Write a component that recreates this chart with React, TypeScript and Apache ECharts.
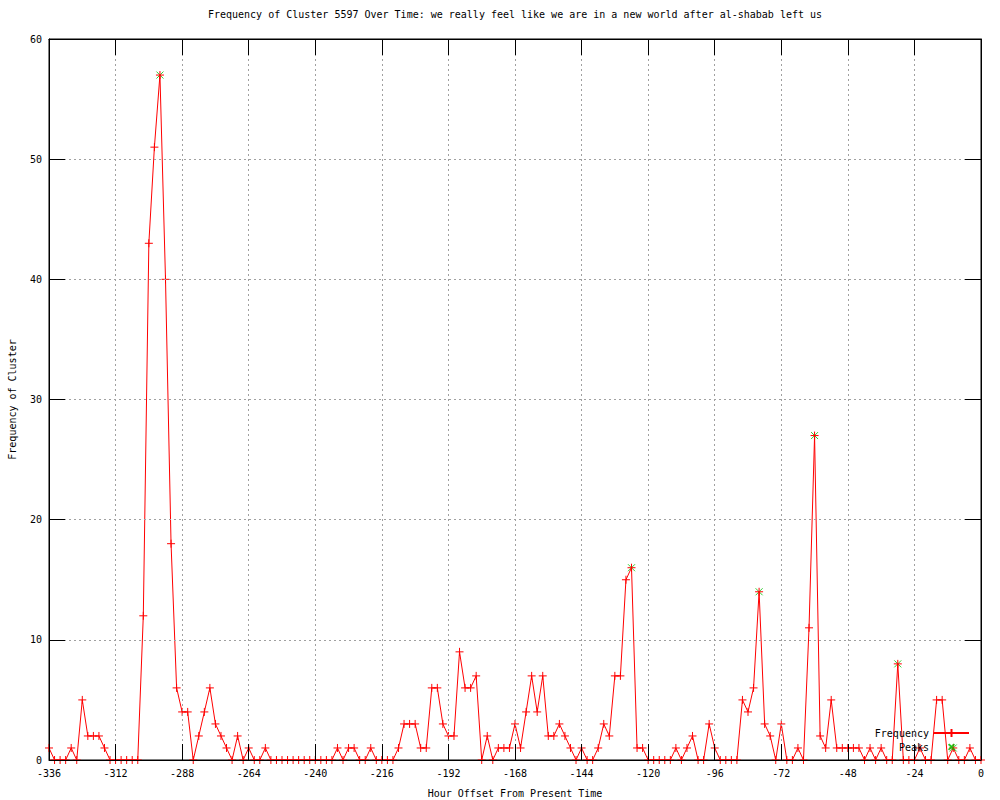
import React, { useEffect, useRef } from "react";
import * as echarts from "echarts";

const TITLE = "Frequency of Cluster 5597 Over Time: we really feel like we are in a new world after al-shabab left us";
const X_NAME = "Hour Offset From Present Time";
const Y_NAME = "Frequency of Cluster";

const HOUR_START = -336;
const HOUR_STEP = 2;

// frequency per 2-hour step, from -336 up to 0
const frequency = [
  1, 0, 0, 0, 1, 0, 5, 2, 2, 2,
  1, 0, 0, 0, 0, 0, 0, 12, 43, 51,
  57, 40, 18, 6, 4, 4, 0, 2, 4, 6,
  3, 2, 1, 0, 2, 0, 1, 0, 0, 1,
  0, 0, 0, 0, 0, 0, 0, 0, 0, 0,
  0, 0, 1, 0, 1, 1, 0, 0, 1, 0,
  0, 0, 0, 1, 3, 3, 3, 1, 1, 6,
  6, 3, 2, 2, 9, 6, 6, 7, 0, 2,
  0, 1, 1, 1, 3, 1, 4, 7, 4, 7,
  2, 2, 3, 2, 1, 0, 1, 0, 0, 1,
  3, 2, 7, 7, 15, 16, 1, 1, 0, 0,
  0, 0, 0, 1, 0, 1, 2, 0, 0, 3,
  1, 0, 0, 0, 0, 5, 4, 6, 14, 3,
  2, 0, 3, 0, 0, 1, 0, 11, 27, 2,
  1, 5, 1, 1, 1, 1, 1, 0, 1, 0,
  1, 0, 0, 8, 0, 0, 0, 1, 0, 0,
  5, 5, 0, 1, 0, 0, 1, 0, 0,
];

const peakHours = [-296, -126, -80, -60, -30, -10];
const peakValues = [57, 16, 14, 27, 8, 1];

const X_MIN = -336;
const X_MAX = 0;
const X_INTERVAL = 24;
const Y_MIN = 0;
const Y_MAX = 60;
const Y_INTERVAL = 10;

const FONT = "DejaVu Sans Mono";
const PLUS = "path://M0,4.5L9,4.5M4.5,0L4.5,9";
const CROSS = "path://M0,0L9,9M9,0L0,9";
const CROSS_LEGEND = "path://M0,0L0,0M2.5,2.5L9.5,9.5M9.5,2.5L2.5,9.5M12,12L12,12";

const makeTick = () => ({ show: true, inside: true, length: 16, lineStyle: { color: "#000", width: 1 } });
const makeLine = () => ({ show: true, onZero: false, lineStyle: { color: "#000", width: 1 } });
const makeGridLine = () => ({ show: true, lineStyle: { color: "#a0a0a0", type: [2, 3] as any, width: 1 } });

export default function App() {
  const ref = useRef<HTMLDivElement>(null);

  useEffect(() => {
    if (!ref.current) return;
    const chart = echarts.init(ref.current, null, { renderer: "svg" });

    const freqData = frequency.map((v, i) => [HOUR_START + i * HOUR_STEP, v]);
    const peakData = peakHours.map((h, i) => [h, peakValues[i]]);

    chart.setOption({
      animation: false,
      backgroundColor: "#fff",
      title: {
        text: TITLE,
        left: 515,
        textAlign: "center",
        top: 9,
        padding: 0,
        textStyle: { fontFamily: FONT, fontSize: 10, fontWeight: "normal", color: "#000" },
      },
      legend: {
        orient: "vertical",
        right: 30,
        top: 728,
        padding: 0,
        align: "right",
        itemWidth: 35,
        itemHeight: 10,
        itemGap: 3,
        data: ["Frequency", { name: "Peaks", icon: CROSS_LEGEND }],
        textStyle: { fontFamily: FONT, fontSize: 10, color: "#000" },
      },
      grid: {
        left: 49,
        right: 19,
        top: 39,
        bottom: 40,
        show: true,
        borderColor: "#000",
        borderWidth: 1,
        backgroundColor: "transparent",
        containLabel: false,
        outerBoundsMode: "none",
      },
      xAxis: [
        {
          type: "value",
          min: X_MIN,
          max: X_MAX,
          interval: X_INTERVAL,
          position: "bottom",
          name: X_NAME,
          nameLocation: "middle",
          nameGap: 28,
          nameTextStyle: { fontFamily: FONT, fontSize: 10, color: "#000" },
          axisLine: makeLine(),
          axisTick: makeTick(),
          axisLabel: { fontFamily: FONT, fontSize: 10, color: "#000", margin: 8 },
          splitLine: makeGridLine(),
          z: 5,
        },
        {
          type: "value",
          min: X_MIN,
          max: X_MAX,
          interval: X_INTERVAL,
          position: "top",
          axisLine: makeLine(),
          axisTick: makeTick(),
          axisLabel: { show: false },
          splitLine: { show: false },
          z: 5,
        },
      ],
      yAxis: [
        {
          type: "value",
          min: Y_MIN,
          max: Y_MAX,
          interval: Y_INTERVAL,
          position: "left",
          name: Y_NAME,
          nameLocation: "middle",
          nameGap: 32,
          nameTextStyle: { fontFamily: FONT, fontSize: 10, color: "#000" },
          axisLine: makeLine(),
          axisTick: makeTick(),
          axisLabel: { fontFamily: FONT, fontSize: 10, color: "#000", margin: 7 },
          splitLine: makeGridLine(),
          z: 5,
        },
        {
          type: "value",
          min: Y_MIN,
          max: Y_MAX,
          interval: Y_INTERVAL,
          position: "right",
          axisLine: makeLine(),
          axisTick: makeTick(),
          axisLabel: { show: false },
          splitLine: { show: false },
          z: 5,
        },
      ],
      series: [
        {
          name: "Frequency",
          type: "line",
          xAxisIndex: 0,
          yAxisIndex: 0,
          data: freqData,
          symbol: PLUS,
          symbolSize: 8,
          showAllSymbol: true,
          clip: true,
          z: 3,
          lineStyle: { color: "#ff0000", width: 1 },
          itemStyle: { color: "transparent", borderColor: "#ff0000", borderWidth: 1 },
          emphasis: { disabled: true },
        },
        {
          name: "Peaks",
          type: "scatter",
          xAxisIndex: 0,
          yAxisIndex: 0,
          data: peakData,
          symbol: CROSS,
          symbolSize: 7,
          z: 2,
          itemStyle: { color: "transparent", borderColor: "#00c000", borderWidth: 1 },
          emphasis: { disabled: true },
        },
      ],
    });

    return () => chart.dispose();
  }, []);

  return (
    <div
      ref={ref}
      style={{ position: "fixed", left: 0, top: 0, width: 1000, height: 800, background: "#fff" }}
    />
  );
}
